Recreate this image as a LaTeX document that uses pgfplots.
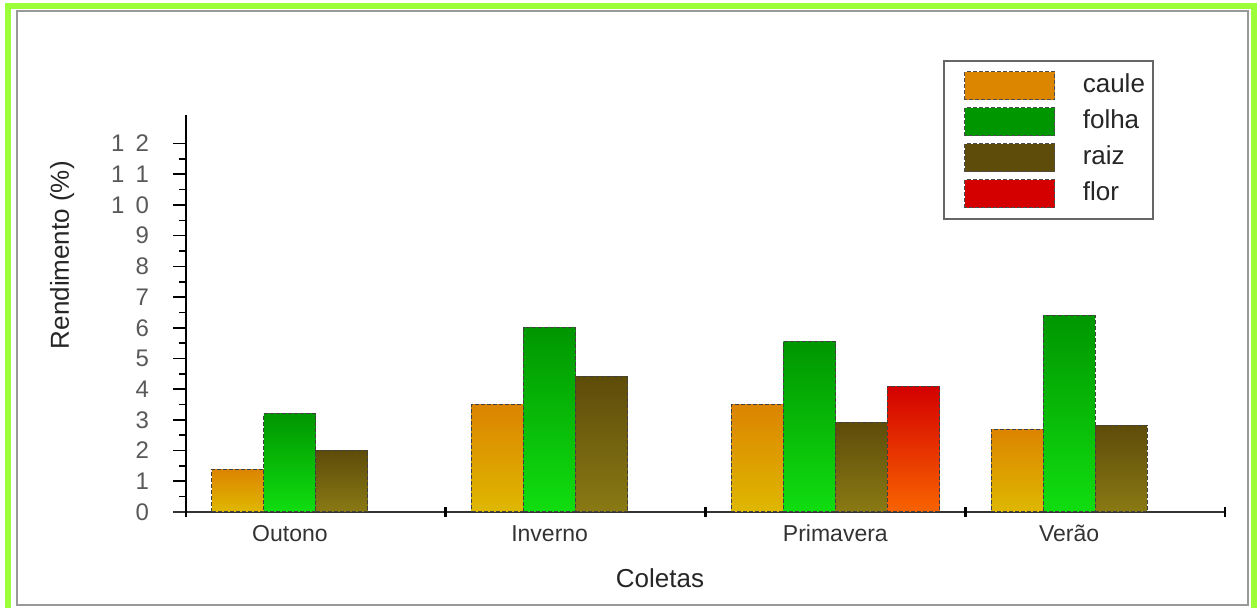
\documentclass[border=0pt]{standalone}
\usepackage{pgfplots}
\pgfplotsset{compat=1.18}
\usepackage{fontspec}
\setmainfont{Liberation Sans}
\definecolor{frameGreen}{RGB}{155,255,58}
\definecolor{cauleT}{RGB}{220,132,0}
\definecolor{cauleM}{RGB}{221,140,0}
\definecolor{cauleB}{RGB}{222,184,0}
\definecolor{folhaT}{RGB}{0,150,0}
\definecolor{folhaM}{RGB}{0,185,0}
\definecolor{folhaB}{RGB}{16,222,16}
\definecolor{raizT}{RGB}{94,76,10}
\definecolor{raizM}{RGB}{116,99,15}
\definecolor{raizB}{RGB}{138,122,20}
\definecolor{florT}{RGB}{212,0,0}
\definecolor{florM}{RGB}{230,50,0}
\definecolor{florB}{RGB}{248,100,0}
\definecolor{cauleL}{RGB}{220,134,0}
\definecolor{folhaL}{RGB}{0,150,0}
\definecolor{raizL}{RGB}{94,76,10}
\definecolor{florL}{RGB}{212,0,0}
\pgfplotsset{
  barbase/.style={ybar, bar width=1, bar shift=0pt, forget plot,
    draw=black!75, line width=0.5pt, dash pattern=on 2pt off 1pt},
  caule/.style={barbase, top color=cauleT, middle color=cauleM, bottom color=cauleB},
  folha/.style={barbase, top color=folhaT, middle color=folhaM, bottom color=folhaB},
  raiz/.style={barbase, top color=raizT, middle color=raizM, bottom color=raizB},
  flor/.style={barbase, top color=florT, middle color=florM, bottom color=florB},
}
\begin{document}
\begin{tikzpicture}
\path[use as bounding box] (0,0) rectangle (629.5pt,304pt);
\draw[frameGreen, line width=3pt] (4pt,-10pt) -- (4pt,301pt) -- (627pt,301pt) -- (627pt,-10pt);
\draw[black!40, line width=1pt] (8.25pt,1.5pt) rectangle (624pt,298.25pt);
\begin{axis}[
  at={(93pt,48pt)}, anchor=south west,
  scale only axis, width=519.5pt, height=198.5pt,
  xmin=0, xmax=20, ymin=0, ymax=12.93,
  axis x line*=bottom, axis y line*=left,
  x axis line style={black!80, line width=1pt, shorten <=-6.5pt},
  y axis line style={black, line width=1pt},
  ytick={0,...,12},
  yticklabels={0,1,2,3,4,5,6,7,8,9,1\hspace{5.5pt}0,1\hspace{5.5pt}1,1\hspace{5.5pt}2},
  minor y tick num=1,
  tick align=outside,
  major tick length=6.5pt, minor tick length=3.5pt,
  ytick style={black, line width=0.8pt},
  yticklabel style={font=\fontsize{12}{14}\selectfont, text=black!65, xshift=-8.5pt},
  xtick={2,7,12.5,17},
  xticklabels={Outono,Inverno,Primavera,Verão},
  xtick style={draw=none},
  xticklabel style={font=\fontsize{11.5}{14}\selectfont, text=black!80, anchor=base, yshift=-8.5pt},
  extra x ticks={0,5,10,15,20},
  extra x tick labels={},
  extra x tick style={tick align=center, major tick length=5pt, xtick style={draw=black, line width=1.3pt}},
  xlabel={Coletas},
  xlabel style={at={(axis description cs:0.4562,-0.1662)}, anchor=center, font=\fontsize{13}{15}\selectfont, text=black!85},
  ylabel={Rendimento (\%)},
  ylabel style={at={(axis description cs:-0.1193,0.647)}, anchor=center, font=\fontsize{13}{15}\selectfont, text=black!85},
  clip=false,
  legend image code/.code={\path[draw=none, fill=none] (-8.5pt,0pt) -- (57pt,0pt);\draw[#1, draw=black!70, line width=0.5pt, dash pattern=on 2pt off 1pt] (0pt,-7pt) rectangle (45pt,7pt);},
  legend style={at={(0.7286,1.1385)}, anchor=north west, draw=black!60, line width=0.8pt,
    font=\fontsize{13}{15}\selectfont, text=black!85,
    inner xsep=2pt, inner ysep=4pt, row sep=1pt,
    nodes={inner sep=2pt, text height=10pt, text depth=3pt}},
  legend cell align=left,
]
\addlegendimage{fill=cauleL}\addlegendentry{caule}
\addlegendimage{fill=folhaL}\addlegendentry{folha}
\addlegendimage{fill=raizL}\addlegendentry{raiz}
\addlegendimage{fill=florL}\addlegendentry{flor}
% Outono
\addplot[caule] coordinates {(1,1.4)};
\addplot[folha] coordinates {(2,3.2)};
\addplot[raiz] coordinates {(3,2.0)};
% Inverno
\addplot[caule] coordinates {(6,3.5)};
\addplot[folha] coordinates {(7,6.0)};
\addplot[raiz] coordinates {(8,4.4)};
% Primavera
\addplot[caule] coordinates {(11,3.5)};
\addplot[folha] coordinates {(12,5.55)};
\addplot[raiz] coordinates {(13,2.92)};
\addplot[flor] coordinates {(14,4.1)};
% Verao
\addplot[caule] coordinates {(16,2.7)};
\addplot[folha] coordinates {(17,6.4)};
\addplot[raiz] coordinates {(18,2.83)};
\end{axis}
\end{tikzpicture}
\end{document}
